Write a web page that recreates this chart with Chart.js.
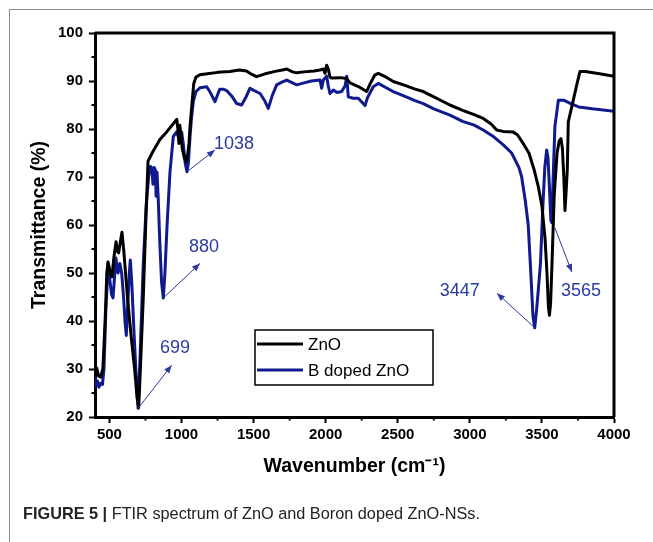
<!DOCTYPE html>
<html>
<head>
<meta charset="utf-8">
<script src="https://cdn.jsdelivr.net/npm/chart.js@4.4.1/dist/chart.umd.min.js"></script>
<style>
    html, body { margin: 0; padding: 0; background: #fff; }
    #wrap { position: relative; width: 653px; height: 542px; overflow: hidden; }
    #frame { position: absolute; left: 9px; top: 9px; width: 660px; height: 560px;
             border-top: 1.5px solid #8c8c8c; border-left: 1.5px solid #8c8c8c; }
    #chart { position: absolute; left: 0; top: 0; }
    #caption { position: absolute; left: 23px; top: 504px; color: #222;
               font: 16.3px "Liberation Sans", Arial, sans-serif; white-space: nowrap; }
    #caption b { font-weight: bold; }
</style>
</head>
<body>
<div id="wrap">
    <div id="frame"></div>
    <canvas id="chart" width="653" height="542"></canvas>
    <div id="caption"><b>FIGURE 5 |</b> FTIR spectrum of ZnO and Boron doped ZnO-NSs.</div>
</div>
<script>
// Series labels
const SERIES_NAMES = ['ZnO', 'B doped ZnO'];

// ZnO spectrum (wavenumber, transmittance %)
const ZNO_WN = [400, 412, 425, 440, 455, 470, 482, 490, 500, 510, 518, 530, 546, 556, 564, 576, 587, 600, 625, 650,
    675, 692, 703, 712, 735, 755, 768, 800, 850, 900, 940, 967, 975, 982, 988, 995, 1005, 1020, 1032, 1042,
    1052, 1059, 1072, 1085, 1100, 1128, 1180, 1250, 1336, 1400, 1450, 1480, 1521, 1580, 1650, 1700, 1730, 1770, 1799, 1850,
    1920, 1961, 1985, 1995, 2007, 2018, 2030, 2042, 2100, 2146, 2169, 2230, 2284, 2310, 2342, 2365, 2420, 2469, 2550, 2620,
    2677, 2750, 2862, 2950, 3030, 3093, 3150, 3186, 3230, 3299, 3330, 3370, 3410, 3446, 3475, 3500, 3522, 3535, 3545, 3552,
    3560, 3570, 3585, 3605, 3620, 3632, 3642, 3652, 3660, 3666, 3676, 3683, 3710, 3740, 3764, 3800, 3900, 4000];
const ZNO_T = [29.5, 30.2, 28.5, 28.3, 30.2, 40, 50, 52.3, 51, 49.5, 49.2, 53, 56.5, 54.5, 54.2, 56.5, 58.5, 54.5, 45, 37,
    30, 24, 22, 28, 45, 63, 73.3, 75.2, 77.8, 79.5, 81, 82, 80, 77, 80.8, 79, 76, 74, 73.2, 74.5,
    77, 80.4, 85, 89.5, 90.8, 91.3, 91.5, 91.8, 92, 92.3, 92.1, 91.5, 90.9, 91.5, 92, 92.3, 92.5, 91.9, 91.7, 91.9,
    92.1, 92.3, 92.5, 91.6, 93.3, 92.5, 90.8, 90.6, 90.7, 90.5, 89.6, 88.8, 87.8, 89.5, 91.3, 91.6, 90.8, 89.9, 89.1, 88.3,
    87.8, 86.7, 85, 83.9, 83, 82.2, 81, 79.8, 79.5, 79.4, 78.8, 77, 75, 71.5, 68, 64, 57, 50, 43, 41.2,
    43.5, 52, 66, 75, 77.5, 78, 76, 70, 63, 66, 71.5, 81.5, 85, 89, 92, 92, 91.5, 91];

// B doped ZnO spectrum (wavenumber, transmittance %)
const BZNO_WN = [400, 408, 418, 428, 440, 452, 462, 475, 488, 495, 505, 515, 525, 535, 545, 552, 560, 572, 585, 598,
    608, 617, 628, 638, 645, 655, 670, 688, 699, 712, 735, 755, 772, 785, 795, 802, 810, 818, 824, 830,
    838, 850, 862, 874, 885, 900, 920, 943, 966, 985, 1001, 1012, 1025, 1038, 1048, 1059, 1070, 1082, 1100, 1128,
    1175, 1200, 1232, 1265, 1290, 1313, 1350, 1383, 1417, 1445, 1475, 1498, 1545, 1575, 1602, 1630, 1660, 1700, 1730, 1770,
    1799, 1850, 1900, 1961, 1972, 1984, 2007, 2018, 2030, 2053, 2080, 2111, 2135, 2146, 2157, 2190, 2226, 2260, 2273, 2290,
    2330, 2365, 2420, 2469, 2550, 2620, 2677, 2750, 2862, 2950, 3030, 3093, 3160, 3232, 3290, 3340, 3359, 3385, 3405, 3423,
    3438, 3450, 3462, 3475, 3490, 3505, 3520, 3533, 3542, 3552, 3562, 3568, 3576, 3590, 3614, 3650, 3700, 3755, 3850, 4000];
const BZNO_T = [28, 26.5, 27.5, 26.2, 27, 26.8, 30, 42, 50, 50.6, 48, 45.5, 44.8, 49, 53.1, 51.5, 50, 52, 50, 45,
    40, 37, 44, 50, 52.7, 48, 38, 27, 21.8, 32, 52, 64, 70, 72.2, 71.8, 68.5, 72, 71.5, 66, 71,
    66, 56, 48, 44.8, 50, 60, 71, 78.4, 79.4, 77.7, 79.4, 77, 73, 71.1, 73, 78.4, 82.5, 85.7, 87.8, 88.6,
    88.8, 87.6, 85.7, 88.3, 88.3, 88, 86.8, 85.3, 85, 86.5, 88.5, 88.1, 87.4, 86, 84.3, 87, 89.2, 89.8, 90.2, 89.6,
    89.2, 89.6, 90, 90.2, 88.5, 90.2, 91, 89, 87.4, 88.1, 87.6, 87.8, 89, 91, 86.7, 86.4, 86.4, 85.3, 84.9, 86.5,
    88.8, 89.5, 88.6, 87.8, 86.8, 85.9, 85.3, 84.2, 82.9, 81.6, 80.8, 79.8, 78.5, 76.7, 75, 72, 70.1, 65, 60, 50,
    41, 38.6, 42, 46.5, 52, 62.9, 72, 75.6, 74, 68, 61, 60.5, 68, 80.5, 86, 86, 85.3, 84.6, 84.2, 83.7];

// Axis ticks
const X_TICKS = [500, 1000, 1500, 2000, 2500, 3000, 3500, 4000];
const X_MINOR = [750, 1250, 1750, 2250, 2750, 3250, 3750];
const Y_MINOR = [25, 35, 45, 55, 65, 75, 85, 95];

// Peak annotations: label, peak point, arrow tip, text centre (data units)
const PEAK_LABELS = ['699', '880', '1038', '3447', '3565'];
const PEAK_FROM = [[699, 21.8], [874, 44.8], [1038, 71.1], [3450, 38.6], [3590, 59.4]];
const PEAK_TIP = [[932, 30.8], [1128, 52], [1232, 75.6], [3188, 45.8], [3708, 50.2]];
const PEAK_TEXT = [[955, 34.4], [1156, 55.4], [1364, 76.9], [2930, 46.3], [3771, 46.3]];

const FONT = '"Liberation Sans", Arial, sans-serif';
const COLORS = ['#000000', '#0e1a8e'];
const NOTE_COLOR = '#2a3aa0';

function toPoints(xs, ys) {
    return xs.map((x, i) => ({ x: x, y: ys[i] }));
}

// Frame, minor ticks, peak labels and legend
const extrasPlugin = {
    id: 'extras',
    afterDatasetsDraw(chart) {
        const ctx = chart.ctx;
        const xs = chart.scales.x, ys = chart.scales.y;
        const ca = chart.chartArea;
        ctx.save();

        // top and right frame lines
        ctx.strokeStyle = '#000';
        ctx.lineWidth = 3;
        ctx.beginPath();
        ctx.moveTo(ca.left, ca.top);
        ctx.lineTo(ca.right, ca.top);
        ctx.lineTo(ca.right, ca.bottom);
        ctx.stroke();

        // minor ticks
        ctx.lineWidth = 2;
        ctx.beginPath();
        X_MINOR.forEach(v => {
            const px = xs.getPixelForValue(v);
            ctx.moveTo(px, ca.bottom);
            ctx.lineTo(px, ca.bottom + 3.5);
        });
        Y_MINOR.forEach(v => {
            const py = ys.getPixelForValue(v);
            ctx.moveTo(ca.left, py);
            ctx.lineTo(ca.left - 3.5, py);
        });
        ctx.stroke();

        // peak arrows and labels
        ctx.strokeStyle = NOTE_COLOR;
        ctx.fillStyle = NOTE_COLOR;
        ctx.lineWidth = 1;
        ctx.font = '18px ' + FONT;
        ctx.textAlign = 'center';
        ctx.textBaseline = 'middle';
        PEAK_LABELS.forEach((label, i) => {
            const x0 = xs.getPixelForValue(PEAK_FROM[i][0]), y0 = ys.getPixelForValue(PEAK_FROM[i][1]);
            const x1 = xs.getPixelForValue(PEAK_TIP[i][0]), y1 = ys.getPixelForValue(PEAK_TIP[i][1]);
            const ang = Math.atan2(y1 - y0, x1 - x0);
            ctx.beginPath();
            ctx.moveTo(x0, y0);
            ctx.lineTo(x1, y1);
            ctx.stroke();
            ctx.beginPath();
            ctx.moveTo(x1, y1);
            ctx.lineTo(x1 - 8 * Math.cos(ang) + 3.2 * Math.sin(ang), y1 - 8 * Math.sin(ang) - 3.2 * Math.cos(ang));
            ctx.lineTo(x1 - 8 * Math.cos(ang) - 3.2 * Math.sin(ang), y1 - 8 * Math.sin(ang) + 3.2 * Math.cos(ang));
            ctx.closePath();
            ctx.fill();
            ctx.fillText(label, xs.getPixelForValue(PEAK_TEXT[i][0]), ys.getPixelForValue(PEAK_TEXT[i][1]));
        });

        // legend box
        const lx = ca.left + 160, ly = ca.top + 297;
        ctx.strokeStyle = '#000';
        ctx.lineWidth = 1.5;
        ctx.strokeRect(lx, ly, 178, 55);
        ctx.font = '17px ' + FONT;
        ctx.textAlign = 'left';
        chart.data.datasets.forEach((ds, i) => {
            const rowY = ly + 14 + i * 26;
            ctx.strokeStyle = ds.borderColor;
            ctx.lineWidth = 3;
            ctx.beginPath();
            ctx.moveTo(lx + 2, rowY);
            ctx.lineTo(lx + 48, rowY);
            ctx.stroke();
            ctx.fillStyle = '#000';
            ctx.fillText(ds.label, lx + 53, rowY + 1);
        });
        ctx.restore();
    }
};

new Chart(document.getElementById('chart').getContext('2d'), {
    type: 'line',
    data: {
        datasets: [
            { label: SERIES_NAMES[0], data: toPoints(ZNO_WN, ZNO_T), borderColor: COLORS[0] },
            { label: SERIES_NAMES[1], data: toPoints(BZNO_WN, BZNO_T), borderColor: COLORS[1] }
        ]
    },
    options: {
        responsive: false,
        animation: false,
        devicePixelRatio: 1,
        layout: { padding: { top: 33, right: 39, left: 0, bottom: 0 } },
        plugins: { legend: { display: false }, tooltip: { enabled: false } },
        elements: {
            point: { radius: 0 },
            line: { tension: 0, borderWidth: 3, borderJoinStyle: 'round', borderCapStyle: 'round', fill: false }
        },
        scales: {
            x: {
                type: 'linear',
                min: 400,
                max: 4000,
                afterBuildTicks: s => { s.ticks = X_TICKS.map(v => ({ value: v })); },
                afterFit: s => { s.height = 125; },
                grid: { display: true, drawOnChartArea: false, drawTicks: true, tickLength: 6, tickWidth: 2, tickColor: '#000' },
                border: { display: true, color: '#000', width: 3 },
                ticks: { color: '#000', font: { family: FONT, size: 15, weight: 'bold' }, padding: 3, maxRotation: 0,
                         autoSkip: false, callback: v => String(v) },
                title: { display: true, text: 'Wavenumber (cm\u207B\u00B9)', color: '#000',
                         font: { family: FONT, size: 19.5, weight: 'bold' }, padding: { top: 0, bottom: 64 } }
            },
            y: {
                min: 20,
                max: 100,
                afterFit: s => { s.width = 95; },
                grid: { display: true, drawOnChartArea: false, drawTicks: true, tickLength: 6, tickWidth: 2, tickColor: '#000' },
                border: { display: true, color: '#000', width: 3 },
                ticks: { stepSize: 10, color: '#000', font: { family: FONT, size: 15, weight: 'bold' }, padding: 6 },
                title: { display: true, text: 'Transmittance (%)', color: '#000',
                         font: { family: FONT, size: 19.5, weight: 'bold' }, padding: { top: 28, bottom: 0 } }
            }
        }
    },
    plugins: [extrasPlugin]
});
</script>
</body>
</html>
